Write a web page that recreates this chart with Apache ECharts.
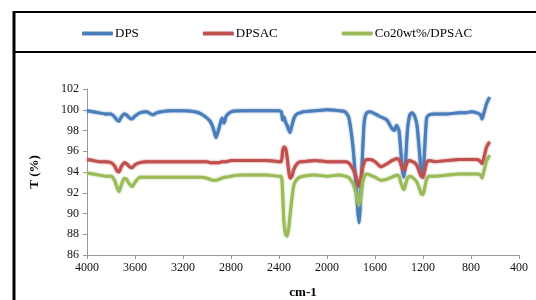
<!DOCTYPE html>
<html>
<head>
<meta charset="utf-8">
<script src="https://cdn.jsdelivr.net/npm/echarts@6/dist/echarts.min.js"></script>
<style>
html,body{margin:0;padding:0;background:#fff;}
#c{width:536px;height:300px;}
</style>
</head>
<body>
<div id="c"></div>
<script>
var seriesNames = ['DPS', 'DPSAC', 'Co20wt%/DPSAC'];
var wavenumbers = [4000,3950,3900,3850,3800,3770,3750,3733,3715,3690,3670,3645,3625,3600,3560,3500,3470,3450,3420,3380,3300,3200,3100,3050,3000,2975,2950,2925,2900,2875,2858,2840,2800,2700,2600,2500,2400,2380,2370,2358,2345,2333,2320,2308,2292,2275,2250,2225,2200,2100,2000,1900,1850,1820,1800,1780,1760,1745,1733,1720,1705,1690,1670,1640,1600,1550,1500,1460,1440,1420,1400,1385,1370,1358,1345,1330,1310,1290,1270,1250,1230,1215,1200,1185,1170,1150,1100,1000,900,850,800,750,720,708,690,670,645];
var dps = [99.9,99.8,99.7,99.6,99.6,99.3,99.0,98.9,99.3,99.6,99.5,99.2,99.1,99.4,99.7,99.8,99.6,99.5,99.7,99.8,99.9,99.9,99.8,99.6,99.2,98.9,98.3,97.3,98.2,99.2,98.7,99.4,99.8,99.9,99.9,99.9,99.9,99.8,99.0,99.3,98.8,98.5,98.1,97.8,98.5,99.2,99.6,99.7,99.8,99.9,100.0,99.9,99.8,99.3,98.0,96.0,93.0,90.5,89.1,91.5,95.5,98.8,99.7,99.8,99.6,99.3,99.0,98.2,98.0,98.5,98.0,96.0,94.0,93.5,95.0,98.0,99.5,99.7,99.4,98.5,96.0,94.0,93.5,96.5,99.2,99.5,99.6,99.6,99.7,99.7,99.8,99.7,99.5,99.1,99.8,100.6,101.2];
var dpsac = [95.2,95.1,95.0,95.0,94.9,94.6,94.1,94.0,94.5,94.9,94.8,94.5,94.4,94.7,94.9,95.0,95.0,95.0,95.0,95.0,95.0,95.0,95.0,95.0,95.0,94.9,94.9,94.9,94.9,95.0,95.0,95.0,95.1,95.1,95.1,95.1,95.0,95.0,96.0,96.4,96.3,95.5,94.2,93.4,93.6,94.3,94.8,95.0,95.0,95.1,95.0,95.0,95.0,94.9,94.6,94.2,93.6,93.0,92.6,93.2,94.3,94.9,95.2,95.2,95.0,94.5,94.8,95.1,95.2,95.3,95.2,94.8,94.3,94.2,94.5,95.0,95.1,95.0,94.9,94.6,94.0,93.6,93.5,94.2,94.9,95.1,95.0,95.1,95.2,95.2,95.2,95.2,95.0,94.8,95.5,96.4,96.9];
var co20 = [93.9,93.8,93.7,93.6,93.6,93.2,92.5,92.1,92.7,93.4,93.3,92.8,92.6,93.0,93.5,93.5,93.5,93.5,93.5,93.5,93.5,93.5,93.5,93.5,93.4,93.3,93.2,93.2,93.3,93.4,93.5,93.5,93.6,93.7,93.7,93.7,93.6,93.6,92.0,89.0,88.0,87.8,88.5,89.8,91.5,92.8,93.3,93.5,93.6,93.7,93.6,93.7,93.6,93.5,93.2,92.8,92.0,91.2,90.8,91.5,92.8,93.5,93.8,93.7,93.5,93.2,93.3,93.5,93.6,93.7,93.6,93.0,92.5,92.3,92.8,93.4,93.6,93.5,93.3,93.0,92.4,91.9,91.8,92.5,93.3,93.6,93.6,93.7,93.8,93.8,93.8,93.8,93.7,93.4,94.2,95.1,95.6];
var xTicks = {min: 400, max: 4000, interval: 400};
var yTicks = {min: 86, max: 102, interval: 2};
var colors = ['#4a7ebb', '#c0504d', '#9bbb59'];

function pairs(vals){ return wavenumbers.map(function(w,i){ return [w, vals[i]]; }); }
var FONT = '"Liberation Serif","Times New Roman",serif';
var chart = echarts.init(document.getElementById('c'), null, {renderer: 'canvas'});
var mk = function(name, vals, color){
  return {name: name, type: 'line', data: pairs(vals), showSymbol: false, symbol: 'none',
    smooth: 0.2, lineStyle: {width: 3, color: color, shadowColor: color, shadowBlur: 2}, itemStyle: {color: color}, z: 2};
};
chart.setOption({
  animation: false,
  backgroundColor: '#fff',
  color: colors,
  legend: {
    left: 77, top: 22, itemWidth: 31, itemHeight: 4, itemGap: 64, icon: 'roundRect',
    textStyle: {fontFamily: FONT, fontSize: 13, color: '#000', padding: [0,0,0,-3]},
    data: seriesNames
  },
  grid: {left: 87, right: 17, top: 89, bottom: 45, containLabel: false, outerBoundsMode: 'none'},
  xAxis: {
    type: 'value', inverse: true, min: xTicks.min, max: xTicks.max, interval: xTicks.interval,
    name: 'cm-1', nameLocation: 'middle', nameGap: 31,
    nameTextStyle: {fontFamily: FONT, fontSize: 13, fontWeight: 'bold', color: '#000'},
    axisLine: {lineStyle: {color: '#999', width: 1}},
    axisTick: {show: true, length: 4, lineStyle: {color: '#999'}},
    axisLabel: {fontFamily: FONT, fontSize: 12, color: '#111', margin: 7, formatter: function(v){ return String(v); }},
    splitLine: {show: false}
  },
  yAxis: {
    type: 'value', min: yTicks.min, max: yTicks.max, interval: yTicks.interval,
    name: 'T (%)', nameLocation: 'middle', nameGap: 46,
    nameTextStyle: {fontFamily: FONT, fontSize: 13, fontWeight: 'bold', color: '#000'},
    axisLine: {show: true, lineStyle: {color: '#999', width: 1}},
    axisTick: {show: true, length: 4, lineStyle: {color: '#999'}},
    axisLabel: {fontFamily: FONT, fontSize: 12, color: '#111', margin: 8, formatter: function(v){ return String(v); }},
    splitLine: {show: false}
  },
  graphic: [
    {type: 'line', shape: {x1: 14, y1: 11, x2: 14, y2: 300}, style: {stroke: '#000', lineWidth: 3}},
    {type: 'line', shape: {x1: 13, y1: 12, x2: 536, y2: 12}, style: {stroke: '#000', lineWidth: 2}},
    {type: 'line', shape: {x1: 13, y1: 52, x2: 536, y2: 52}, style: {stroke: '#000', lineWidth: 2}}
  ],
  series: [mk(seriesNames[0], dps, colors[0]), mk(seriesNames[1], dpsac, colors[1]), mk(seriesNames[2], co20, colors[2])]
});
</script>
</body>
</html>
